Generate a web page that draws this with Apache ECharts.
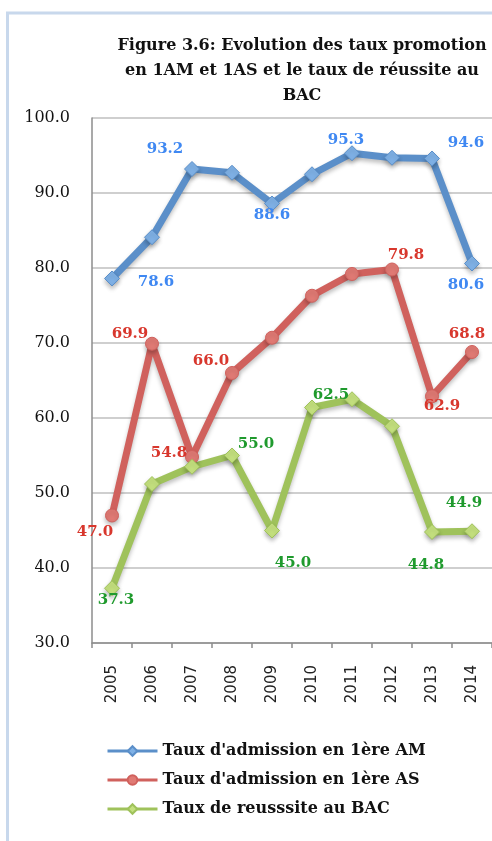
<!DOCTYPE html>
<html>
<head>
<meta charset="utf-8">
<script src="https://cdn.jsdelivr.net/npm/echarts@6/dist/echarts.min.js"></script>
<style>
  html, body { margin: 0; padding: 0; background: #fff; }
  #chart { width: 492px; height: 841px; }
</style>
</head>
<body>
<div id="chart"></div>
<script>
// Années scolaires
const years = ['2005', '2006', '2007', '2008', '2009', '2010', '2011', '2012', '2013', '2014'];

// Taux (%) par série
const tauxAM = [78.6, 84.1, 93.2, 92.7, 88.6, 92.5, 95.3, 94.7, 94.6, 80.6];
const tauxAS = [47.0, 69.9, 54.8, 66.0, 70.7, 76.3, 79.2, 79.8, 62.9, 68.8];
const tauxBAC = [37.3, 51.2, 53.5, 55.0, 45.0, 61.4, 62.5, 58.9, 44.8, 44.9];

const seriesNames = [
  "Taux d'admission en 1ère AM",
  "Taux d'admission en 1ère AS",
  'Taux de reusssite au BAC'
];

const yTicks = { min: 30, max: 100, step: 10 };

// Emplacement des étiquettes de valeur (décalage en px par rapport au point)
const labelPlacementAM = { 0: [44, 4], 2: [-27, -20], 4: [0, 12], 6: [-6, -13], 8: [34, -15], 9: [-6, 22] };
const labelPlacementAS = { 0: [-17, 17], 1: [-22, -10], 2: [-23, -4], 3: [-21, -12], 7: [14, -14], 8: [10, 10], 9: [-5, -18] };
const labelPlacementBAC = { 0: [4, 12], 3: [24, -11], 4: [21, 33], 6: [-21, -4], 8: [-6, 33], 9: [-8, -28] };

function buildData(values, placement, labelColor) {
  return values.map((v, i) => {
    const item = { value: v };
    if (placement[i]) {
      item.label = {
        show: true,
        position: 'inside',
        offset: placement[i],
        formatter: (p) => p.value.toFixed(1),
        color: labelColor,
        fontFamily: 'DejaVu Serif',
        fontWeight: 'bold',
        fontSize: 15
      };
    }
    return item;
  });
}

function lineSeries(name, values, placement, lineColor, fillColor, labelColor, symbol, symbolSize) {
  return {
    name: name,
    type: 'line',
    data: buildData(values, placement, labelColor),
    symbol: symbol,
    symbolSize: symbolSize,
    showAllSymbol: true,
    lineStyle: {
      color: lineColor,
      width: 7,
      shadowColor: 'rgba(0,0,0,0.25)',
      shadowBlur: 4,
      shadowOffsetY: 3
    },
    itemStyle: {
      color: fillColor,
      borderColor: lineColor,
      borderWidth: 1,
      shadowColor: 'rgba(0,0,0,0.25)',
      shadowBlur: 4,
      shadowOffsetY: 3
    },
    label: { show: false },
    emphasis: { disabled: true },
    animation: false,
    z: 3
  };
}

const chart = echarts.init(document.getElementById('chart'), null, { renderer: 'canvas' });

chart.setOption({
  backgroundColor: '#ffffff',
  animation: false,
  color: ['#5b8fc9', '#d0615d', '#9fc25b'],
  title: {
    text: 'Figure 3.6: Evolution des taux promotion\nen 1AM et 1AS et le taux de réussite au\nBAC',
    left: 297,
    top: 28,
    textAlign: 'center',
    textStyle: {
      fontFamily: 'DejaVu Serif',
      fontWeight: 'bold',
      fontSize: 16,
      lineHeight: 25,
      color: '#111111',
      align: 'center'
    }
  },
  graphic: [{
    type: 'rect',
    shape: { x: 7.5, y: 13, width: 600, height: 900 },
    style: { fill: 'none', stroke: '#c8d8ec', lineWidth: 3 },
    silent: true,
    z: -1
  }],
  legend: {
    orient: 'vertical',
    left: 101,
    top: 738,
    itemWidth: 50,
    itemHeight: 12,
    itemGap: 13,
    lineStyle: { width: 3 },
    textStyle: {
      fontFamily: 'DejaVu Serif',
      fontWeight: 'bold',
      fontSize: 16,
      color: '#111111'
    },
    data: seriesNames
  },
  grid: {
    left: 92,
    top: 118,
    right: -1,
    bottom: 198,
    containLabel: false
  },
  xAxis: {
    type: 'category',
    data: years,
    boundaryGap: true,
    axisLine: { lineStyle: { color: '#8c8c8c', width: 1.5 } },
    axisTick: { show: true, length: 5, lineStyle: { color: '#8c8c8c', width: 1.5 } },
    axisLabel: {
      rotate: 90,
      margin: 22,
      fontFamily: 'DejaVu Sans',
      fontSize: 15,
      color: '#222222'
    }
  },
  yAxis: {
    type: 'value',
    min: yTicks.min,
    max: yTicks.max,
    interval: yTicks.step,
    axisLine: { show: true, lineStyle: { color: '#8c8c8c', width: 1.5 } },
    axisTick: { show: false },
    splitLine: { lineStyle: { color: '#bfbfbf', width: 1.5 } },
    axisLabel: {
      margin: 22,
      formatter: (v) => v.toFixed(1),
      fontFamily: 'DejaVu Serif',
      fontSize: 16,
      color: '#111111'
    }
  },
  series: [
    lineSeries(seriesNames[0], tauxAM, labelPlacementAM, '#5b8fc9', '#7fb1e6', '#3f88f2', 'diamond', 15),
    lineSeries(seriesNames[1], tauxAS, labelPlacementAS, '#d0615d', '#e07a74', '#d8372d', 'circle', 13),
    lineSeries(seriesNames[2], tauxBAC, labelPlacementBAC, '#9fc25b', '#c4e07e', '#1f9a2d', 'diamond', 15)
  ]
});
</script>
</body>
</html>
